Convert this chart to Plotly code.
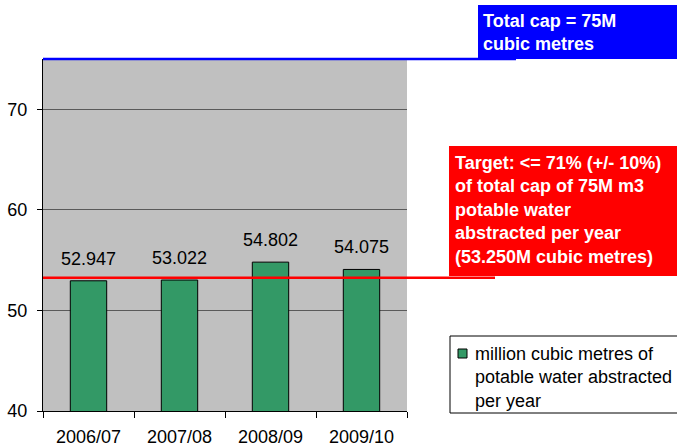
import plotly.graph_objects as go

years = ["2006/07", "2007/08", "2008/09", "2009/10"]
abstracted = [52.947, 53.022, 54.802, 54.075]
value_labels = ["52.947", "53.022", "54.802", "54.075"]
total_cap = 75
target = 53.25
y_ticks = [40, 50, 60, 70]
series_name = "million cubic metres of<br>potable water abstracted<br>per year"

FONT = "Arial, Liberation Sans, sans-serif"
BAR_COLOR = "#339966"

W, H = 677, 447
L, R, T, B = 43, 407, 59, 411
Y_MIN, Y_MAX = 40, 75
pw, ph = R - L, B - T

def px_x(x):
    return (x - L) / pw

def px_y(y):
    return (B - y) / ph

fig = go.Figure()
fig.add_trace(go.Bar(
    x=years, y=abstracted, name=series_name, showlegend=False,
    marker=dict(color=BAR_COLOR, line=dict(color="black", width=1)),
    width=0.4,
))

for yr, v, lab in zip(years, abstracted, value_labels):
    fig.add_annotation(x=yr, y=v, text=lab, showarrow=False, yanchor="bottom",
                       yshift=10, font=dict(family=FONT, size=18, color="black"))

# cap line (sits on the top edge of the plot, so drawn in paper units to avoid clipping)
cap_frac = (total_cap - Y_MIN) / (Y_MAX - Y_MIN)
fig.add_shape(type="line", xref="paper", yref="paper", x0=0, x1=px_x(516),
              y0=cap_frac, y1=cap_frac, line=dict(color="#0000FF", width=2.5))
# target line
fig.add_shape(type="line", xref="paper", yref="y", x0=0, x1=px_x(495),
              y0=target, y1=target, line=dict(color="#FF0000", width=2.5))

# callout boxes
fig.add_shape(type="rect", xref="paper", yref="paper", x0=px_x(478), x1=px_x(690),
              y0=px_y(59), y1=px_y(5), fillcolor="#0000FF", line=dict(width=0))
fig.add_shape(type="rect", xref="paper", yref="paper", x0=px_x(449), x1=px_x(690),
              y0=px_y(276), y1=px_y(146), fillcolor="#FF0000", line=dict(width=0))

fig.add_annotation(xref="paper", yref="paper", x=px_x(481), y=px_y(32),
                   xanchor="left", yanchor="middle", align="left", showarrow=False,
                   text="<b>Total cap = 75M<br>cubic metres</b>",
                   font=dict(family=FONT, size=18, color="white"))
fig.add_annotation(xref="paper", yref="paper", x=px_x(453), y=px_y(209.5),
                   xanchor="left", yanchor="middle", align="left", showarrow=False,
                   text="<b>Target: <= 71% (+/- 10%)<br>of total cap of 75M m3<br>potable water<br>abstracted per year<br>(53.250M cubic metres)</b>",
                   font=dict(family=FONT, size=18, color="white"))

# legend box (as in the original: box clipped by the right edge)
fig.add_shape(type="rect", xref="paper", yref="paper", x0=px_x(450), x1=px_x(700),
              y0=px_y(413), y1=px_y(336), fillcolor="white",
              line=dict(color="black", width=1), layer="below")
fig.add_shape(type="rect", xref="paper", yref="paper", x0=px_x(458), x1=px_x(467),
              y0=px_y(358), y1=px_y(349), fillcolor=BAR_COLOR,
              line=dict(color="black", width=1))
fig.add_annotation(xref="paper", yref="paper", x=px_x(473), y=px_y(377),
                   xanchor="left", yanchor="middle", align="left", showarrow=False,
                   text=series_name,
                   font=dict(family=FONT, size=18, color="black"))

fig.update_layout(
    width=W, height=H,
    margin=dict(l=L, r=W - R, t=T, b=H - B, pad=0, autoexpand=False),
    paper_bgcolor="white", plot_bgcolor="#C0C0C0",
    font=dict(family=FONT, size=18, color="black"),
    showlegend=False,
    bargap=0.6,
)
fig.update_xaxes(type="category", showline=True, linecolor="black", linewidth=1,
                 ticks="outside", ticklen=6, tickcolor="black", tickson="boundaries",
                 showgrid=False, automargin=False, ticklabelstandoff=9,
                 tickfont=dict(family=FONT, size=18, color="black"))
fig.update_yaxes(range=[Y_MIN, Y_MAX], tickvals=y_ticks, showline=True, linecolor="black",
                 linewidth=1, ticks="outside", ticklen=5, tickcolor="black",
                 showgrid=True, gridcolor="#5a5a5a", gridwidth=1, zeroline=False,
                 automargin=False, ticklabelstandoff=6,
                 tickfont=dict(family=FONT, size=18, color="black"))

fig.write_html("out.html", config={"displayModeBar": False},
               post_script="document.body.style.margin='0';document.body.style.padding='0';")
